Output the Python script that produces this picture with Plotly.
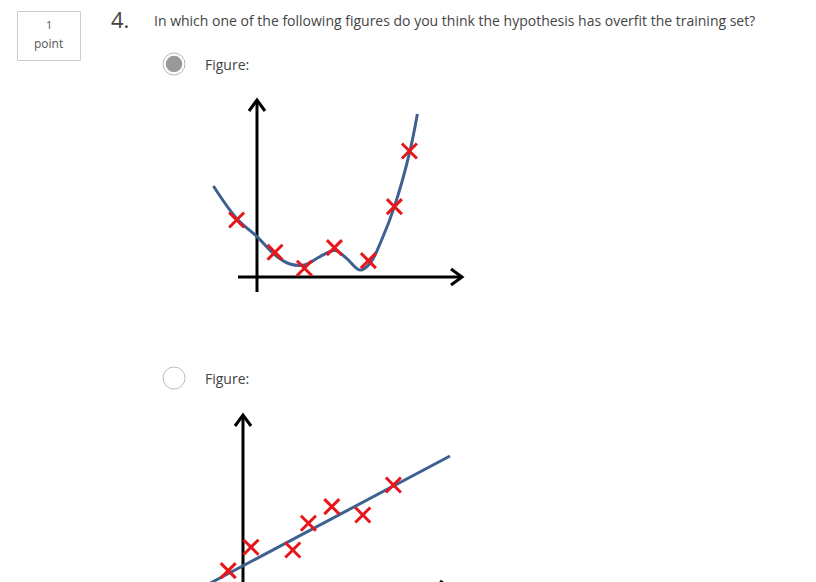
import plotly.graph_objects as go

W, H = 816, 582
OFF = 0  # body margin removed via post_script

# ---------------- data ----------------
# Figure 1 (overfit): training examples and fitted hypothesis control points
fig1_x = [-1.02, 0.90, 2.37, 3.87, 5.57, 6.87, 7.62]
fig1_y = [2.85, 1.24, 0.44, 1.47, 0.82, 3.52, 6.30]
curve1_x = [-2.18, -1.02, 0.00, 0.90, 1.65, 2.37, 3.15, 3.90, 4.48, 5.15, 5.65, 6.23, 6.87, 7.62, 8.02]
curve1_y = [4.55, 2.93, 2.02, 1.10, 0.65, 0.60, 1.02, 1.32, 0.93, 0.35, 0.68, 1.85, 3.52, 6.18, 8.15]

# Figure 2 (linear fit): training examples and straight-line hypothesis
fig2_x = [-0.74, 0.40, 2.49, 3.27, 4.44, 5.99, 7.52]
fig2_y = [0.97, 2.14, 2.00, 3.34, 4.17, 3.75, 5.25]
line2_x = [-2.0, 10.35]
line2_y = [0.15, 6.70]

question_number = "4."
question_text = "In which one of the following figures do you think the hypothesis has overfit the training set?"
points_text = ["1", "point"]
option_labels = ["Figure:", "Figure:"]

# ---------------- helpers ----------------
def px(x):
    return (x - OFF) / W

def py(y):
    return 1 - (y - OFF) / H

RED = "#e8161b"
BLUE = "#3e6190"
FONT = "Open Sans"

fig = go.Figure()

# Figure 1 traces (axes x / y)
fig.add_trace(go.Scatter(x=curve1_x, y=curve1_y, mode="lines",
                         line=dict(color=BLUE, width=3, shape="spline", smoothing=1.0),
                         xaxis="x", yaxis="y", hoverinfo="skip"))
fig.add_trace(go.Scatter(x=fig1_x, y=fig1_y, mode="markers",
                         marker=dict(symbol="x-thin", size=15, line=dict(color=RED, width=3)),
                         xaxis="x", yaxis="y", hoverinfo="skip"))

# Figure 2 traces (axes x2 / y2)
fig.add_trace(go.Scatter(x=line2_x, y=line2_y, mode="lines",
                         line=dict(color=BLUE, width=3),
                         xaxis="x2", yaxis="y2", hoverinfo="skip"))
fig.add_trace(go.Scatter(x=fig2_x, y=fig2_y, mode="markers",
                         marker=dict(symbol="x-thin", size=15, line=dict(color=RED, width=3)),
                         xaxis="x2", yaxis="y2", hoverinfo="skip"))

hidden = dict(visible=False, fixedrange=True)

fig.update_layout(
    width=W, height=H,
    margin=dict(l=0, r=0, t=0, b=0),
    paper_bgcolor="white", plot_bgcolor="rgba(0,0,0,0)",
    showlegend=False,
    xaxis=dict(domain=[px(200), px(480)], range=[(200 - 257) / 20, (480 - 257) / 20], **hidden),
    yaxis=dict(domain=[py(300), py(90)], range=[(277 - 300) / 20, (277 - 90) / 20], **hidden),
    xaxis2=dict(domain=[px(190), px(470)], range=[(190 - 243) / 20, (470 - 243) / 20], anchor="y2", **hidden),
    yaxis2=dict(domain=[py(582), py(400)], range=[(590 - 582) / 20, (590 - 400) / 20], anchor="x2", **hidden),
)

shapes = []
axis_line = dict(color="black", width=3)

def add_axes(xr, yr, xlo, xhi, ylo, yhi, xaxis_y=0.0):
    shapes.append(dict(type="line", xref=xr, yref=yr, x0=0, x1=0, y0=ylo, y1=yhi, line=axis_line, layer="below"))
    shapes.append(dict(type="line", xref=xr, yref=yr, x0=xlo, x1=xhi, y0=xaxis_y, y1=xaxis_y, line=axis_line, layer="below"))
    shapes.append(dict(type="path", xref=xr, yref=yr,
                       path=f"M -0.4,{yhi-0.55} L 0,{yhi} L 0.4,{yhi-0.55}", line=axis_line, layer="below"))
    shapes.append(dict(type="path", xref=xr, yref=yr,
                       path=f"M {xhi-0.55},{xaxis_y+0.4} L {xhi},{xaxis_y} L {xhi-0.55},{xaxis_y-0.4}",
                       line=axis_line, layer="below"))

add_axes("x", "y", -0.95, 10.25, -0.75, 8.85)
add_axes("x2", "y2", -0.9, 10.4, -1.0, 8.75, xaxis_y=0.05)

# points box
shapes.append(dict(type="rect", xref="paper", yref="paper", x0=px(17.5), x1=px(80.5), y0=py(60.5), y1=py(11.5),
                   line=dict(color="#cccccc", width=1), fillcolor="white"))

# radio buttons
def circle(cx, cy, r, fill, line_color, lw):
    shapes.append(dict(type="circle", xref="paper", yref="paper",
                       x0=px(cx - r), x1=px(cx + r), y0=py(cy + r), y1=py(cy - r),
                       fillcolor=fill, line=dict(color=line_color, width=lw)))

circle(174, 64, 11, "white", "#b5b5b5", 1)
circle(174, 64, 8.3, "#999999", "#999999", 0)
circle(174, 378, 11, "white", "#bdbdbd", 1)

annotations = [
    dict(x=px(48.5), y=py(25), text=points_text[0], font=dict(family=FONT, size=11, color="#555555")),
    dict(x=px(48.5), y=py(44), text=points_text[1], font=dict(family=FONT, size=12, color="#555555")),
    dict(x=px(109), y=py(19), text=question_number, xanchor="left", font=dict(family=FONT, size=22, color="#444444")),
    dict(x=px(152), y=py(21), text=question_text, xanchor="left", font=dict(family=FONT, size=14, color="#444444")),
    dict(x=px(203), y=py(64), text=option_labels[0], xanchor="left", font=dict(family=FONT, size=14, color="#444444")),
    dict(x=px(203), y=py(378), text=option_labels[1], xanchor="left", font=dict(family=FONT, size=14, color="#444444")),
]
for a in annotations:
    a.update(xref="paper", yref="paper", showarrow=False, yanchor="middle")
    a.setdefault("xanchor", "center")

fig.update_layout(shapes=shapes, annotations=annotations)

fig.write_html("out.html", config={"displayModeBar": False},
               post_script="document.body.style.margin='0';document.body.style.overflow='hidden';")
